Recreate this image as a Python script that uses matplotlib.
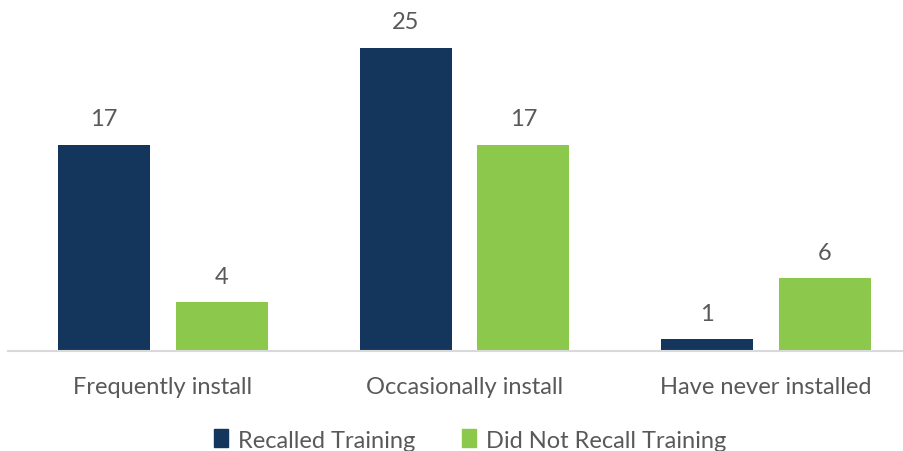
import numpy as np
from matplotlib import pyplot as plt
from matplotlib.patches import Patch

plt.rcParams['font.family'] = ['Lato', 'DejaVu Sans']

categories = ["Frequently install", "Occasionally install", "Have never installed"]
recalled = [17, 25, 1]
not_recalled = [4, 17, 6]
series_names = ["Recalled Training", "Did Not Recall Training"]

dark = "#14365d"
green = "#8cc84b"
text_gray = "#595959"

fig = plt.figure(figsize=(9.04, 4.52), dpi=100)
ax = fig.add_axes([8 / 904, 1 - 352 / 452, 896 / 904, 352 / 452])

x = np.arange(len(categories))
width = 0.305
off = 0.195
b1 = ax.bar(x - off, recalled, width, color=dark)
b2 = ax.bar(x + off, not_recalled, width, color=green)

for bars in (b1, b2):
    for rect in bars:
        h = rect.get_height()
        ax.annotate(str(int(h)), (rect.get_x() + rect.get_width() / 2, h),
                    xytext=(0, 11), textcoords="offset points",
                    ha="center", va="bottom", fontsize=17, color=text_gray)

ax.set_xlim(-0.514, 2.458)
ax.set_ylim(0, 29.0)
ax.set_xticks(x)
ax.set_xticklabels(categories, fontsize=17, color=text_gray)
ax.tick_params(axis="x", length=0, pad=18)
ax.set_yticks([])
for s in ("top", "right", "left"):
    ax.spines[s].set_visible(False)
ax.spines["bottom"].set_color("#d9d9d9")
ax.spines["bottom"].set_linewidth(1.5)

handles = [Patch(color=dark), Patch(color=green)]
fig.legend(handles, series_names, loc="center", bbox_to_anchor=(470 / 904, 1 - 441 / 452),
           ncol=2, frameon=False, fontsize=17, labelcolor=text_gray,
           handlelength=0.6, handleheight=0.8, handletextpad=0.4, columnspacing=2.0)

fig.savefig("out.png", dpi=100)
